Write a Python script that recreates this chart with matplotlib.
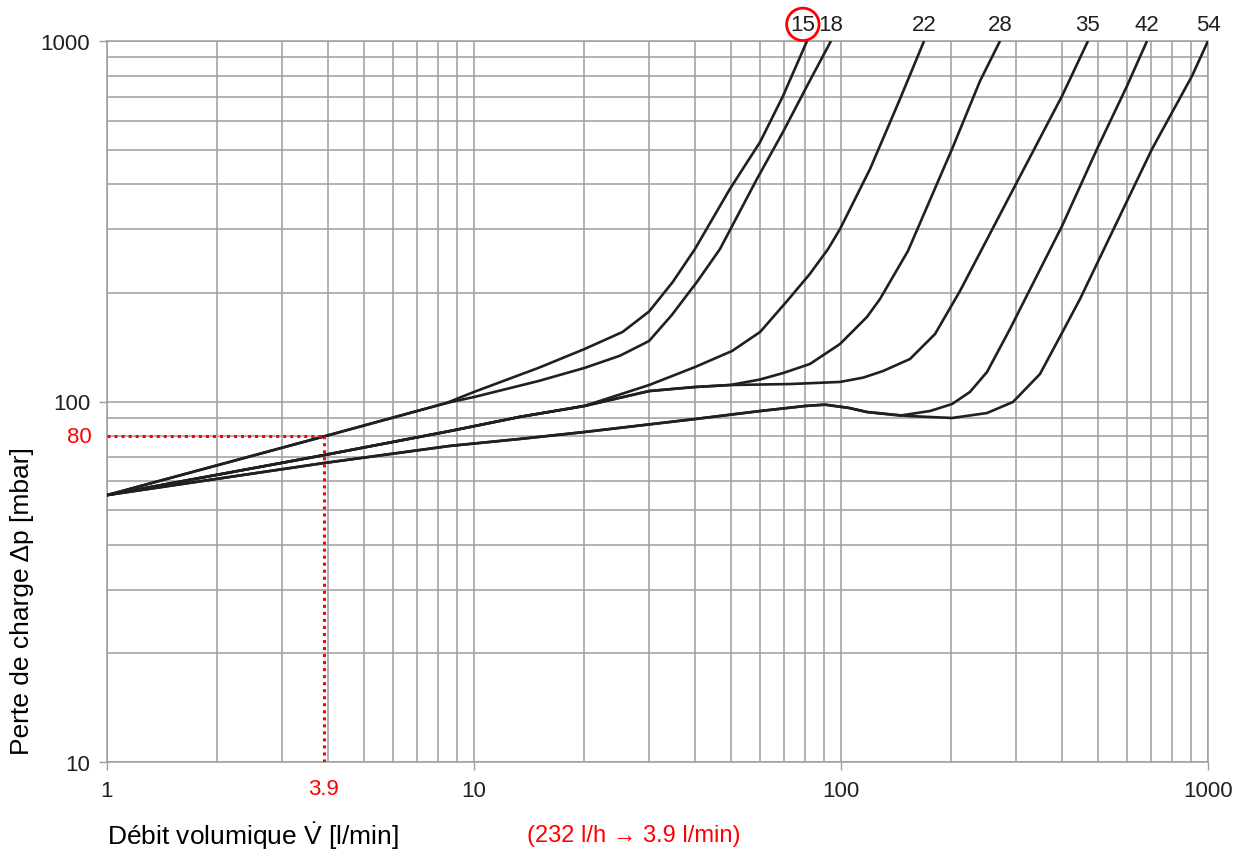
import numpy as np
import matplotlib.pyplot as plt
from matplotlib.ticker import LogLocator, NullFormatter

# flow rate [l/min] and pressure loss [mbar], one pair per pipe size
q_15 = [1, 3.9, 8.4, 10, 15, 20, 25.4, 30, 34.8, 40, 49.8, 60.2, 69.5, 80.8]
dp_15 = [55, 80, 99, 106.3, 124, 139.8, 155.9, 177.7, 214.6, 264.8, 388.6, 524.6, 703.8, 1000]

q_18 = [1, 3.9, 8.4, 10, 15, 20, 25, 30, 34.6, 40.5, 46.8, 59.0, 69.5, 80.8, 93.9]
dp_18 = [55, 80, 99, 102.9, 114, 123.9, 134, 147.2, 173.8, 214.6, 264.8, 414.1, 559.3, 750.4, 1000]

q_22 = [1, 3.9, 8.6, 13.3, 20, 30, 40, 50.5, 60.2, 71.3, 82, 92.2, 99.4, 120, 144.8, 168.4]
dp_22 = [55, 71, 82.8, 90.6, 97.2, 111.1, 124.6, 138.1, 155.9, 190.0, 225, 264.8, 301, 441.6, 690.4, 1000]

q_28 = [1, 3.9, 8.6, 13.3, 20, 30, 40, 49.8, 60, 69.5, 82.3, 99.4, 117.7, 127.7, 152.2, 200.7, 239.2, 271.2]
dp_28 = [55, 71, 82.8, 90.6, 97.2, 106.9, 109.7, 111.1, 115, 119.9, 127.1, 144.4, 171.6, 192.4, 261.5, 501.6, 774.5, 1000]

q_35 = [1, 3.9, 8.6, 13.3, 20, 30, 40, 49.8, 72.6, 99.4, 115, 130.2, 154.2, 180.4, 211.0, 301.7, 400.2, 470.9]
dp_35 = [55, 71, 82.8, 90.6, 97.2, 106.9, 109.7, 111.1, 111.8, 113.3, 116.5, 121.5, 131.2, 153.9, 202.6, 406.3, 703.8, 1000]

q_42 = [1, 3.9, 8.6, 13.3, 20, 40, 60.2, 80, 90.4, 105, 117.7, 144.8, 174.8, 200.7, 224.6, 249.9, 288.7, 400.2, 498.4, 601.6, 682.1]
dp_42 = [55, 67.5, 75.3, 78.7, 82.3, 89.4, 94.1, 97.2, 98.0, 96, 93.5, 91.4, 94.1, 98.4, 106.3, 120.7, 158.9, 306.8, 501.6, 750.4, 1000]

q_54 = [1, 3.9, 8.6, 13.3, 20, 40, 60.2, 80, 90.4, 105, 117.7, 151.3, 200.7, 249.9, 294.2, 348.5, 402.7, 448, 486, 703.8, 904.5, 1000]
dp_54 = [55, 67.5, 75.3, 78.7, 82.3, 89.4, 94.1, 97.2, 98.0, 96, 93.5, 91.2, 90.0, 92.9, 99.7, 119.2, 156.9, 192.4, 228.7, 501.6, 799.6, 1000]

curves = [("15", q_15, dp_15), ("18", q_18, dp_18), ("22", q_22, dp_22),
          ("28", q_28, dp_28), ("35", q_35, dp_35), ("42", q_42, dp_42),
          ("54", q_54, dp_54)]

# example reading: 232 l/h -> 3.9 l/min -> 80 mbar
q_mark = 3.9
dp_mark = 80

x_ticks = [1, 10, 100, 1000]
y_ticks = [10, 100, 1000]

ink = "#231f20"
grid_col = "#9e9e9e"
font = ["Liberation Sans", "DejaVu Sans"]
plt.rcParams["font.family"] = font
plt.rcParams["mathtext.fontset"] = "custom"
plt.rcParams["mathtext.rm"] = "Liberation Sans"
plt.rcParams["mathtext.it"] = "Liberation Sans"

fig = plt.figure(figsize=(12.44, 8.54), dpi=100)
ax = fig.add_axes([107 / 1244, 1 - 763 / 854, 1101 / 1244, 721 / 854])

for name, q, dp in curves:
    ax.plot(q, dp, color=ink, lw=1.9, solid_capstyle="butt", solid_joinstyle="round", zorder=3)

ax.set_xscale("log")
ax.set_yscale("log")
ax.set_xlim(1, 1000)
ax.set_ylim(10, 1000)

ax.set_xticks(x_ticks)
ax.set_xticklabels([str(v) for v in x_ticks])
ax.set_yticks(y_ticks)
ax.set_yticklabels([str(v) for v in y_ticks])
ax.xaxis.set_minor_locator(LogLocator(base=10, subs=range(2, 10)))
ax.yaxis.set_minor_locator(LogLocator(base=10, subs=range(2, 10)))
ax.xaxis.set_minor_formatter(NullFormatter())
ax.yaxis.set_minor_formatter(NullFormatter())
ax.tick_params(which="major", length=6, width=1, color=grid_col, labelsize=16,
               labelcolor=ink)
ax.tick_params(axis="x", which="major", pad=7)
ax.tick_params(axis="y", which="major", pad=6)
ax.tick_params(which="minor", length=0)
ax.grid(which="both", color=grid_col, lw=1.1)
for s in ax.spines.values():
    s.set_color(grid_col)
    s.set_linewidth(1.1)

# red dotted reading lines
ax.plot([1, q_mark], [dp_mark, dp_mark], color="red", lw=2.2, ls=(0, (1, 1.3)), zorder=4)
ax.plot([q_mark, q_mark], [10, dp_mark], color="red", lw=2.2, ls=(0, (1, 1.3)), zorder=4)
ax.annotate("80", xy=(1, dp_mark), xytext=(-11, 0), textcoords="offset points",
            ha="right", va="center", color="red", fontsize=16, annotation_clip=False)
ax.annotate("3.9", xy=(q_mark, 10), xytext=(0, -19), textcoords="offset points",
            ha="center", va="center", color="red", fontsize=16, annotation_clip=False)

# pipe size labels above the curve ends
for name, q, dp in curves:
    box = None
    dx = 0
    if name == "15":
        box = dict(boxstyle="circle,pad=0.17", fc="none", ec="red", lw=2)
        dx = -3
    ax.annotate(name, xy=(q[-1], 1000), xytext=(dx, 12), textcoords="offset points",
                ha="center", va="center", color=ink, fontsize=16, bbox=box,
                annotation_clip=False)

fig.text(22 / 1244, 1 - 601 / 854, "Perte de charge \u0394p [mbar]", rotation=90,
         ha="center", va="center", fontsize=19, color="black")
fig.text(107 / 1244, 1 - 836 / 854, r"Débit volumique $\dot{\mathrm{V}}$ [l/min]",
         ha="left", va="center", fontsize=19, color="black")
fig.text(527 / 1244, 1 - 836 / 854, "(232 l/h \u2192 3.9 l/min)",
         ha="left", va="center", fontsize=17, color="red")

fig.savefig("out.png", dpi=100)
